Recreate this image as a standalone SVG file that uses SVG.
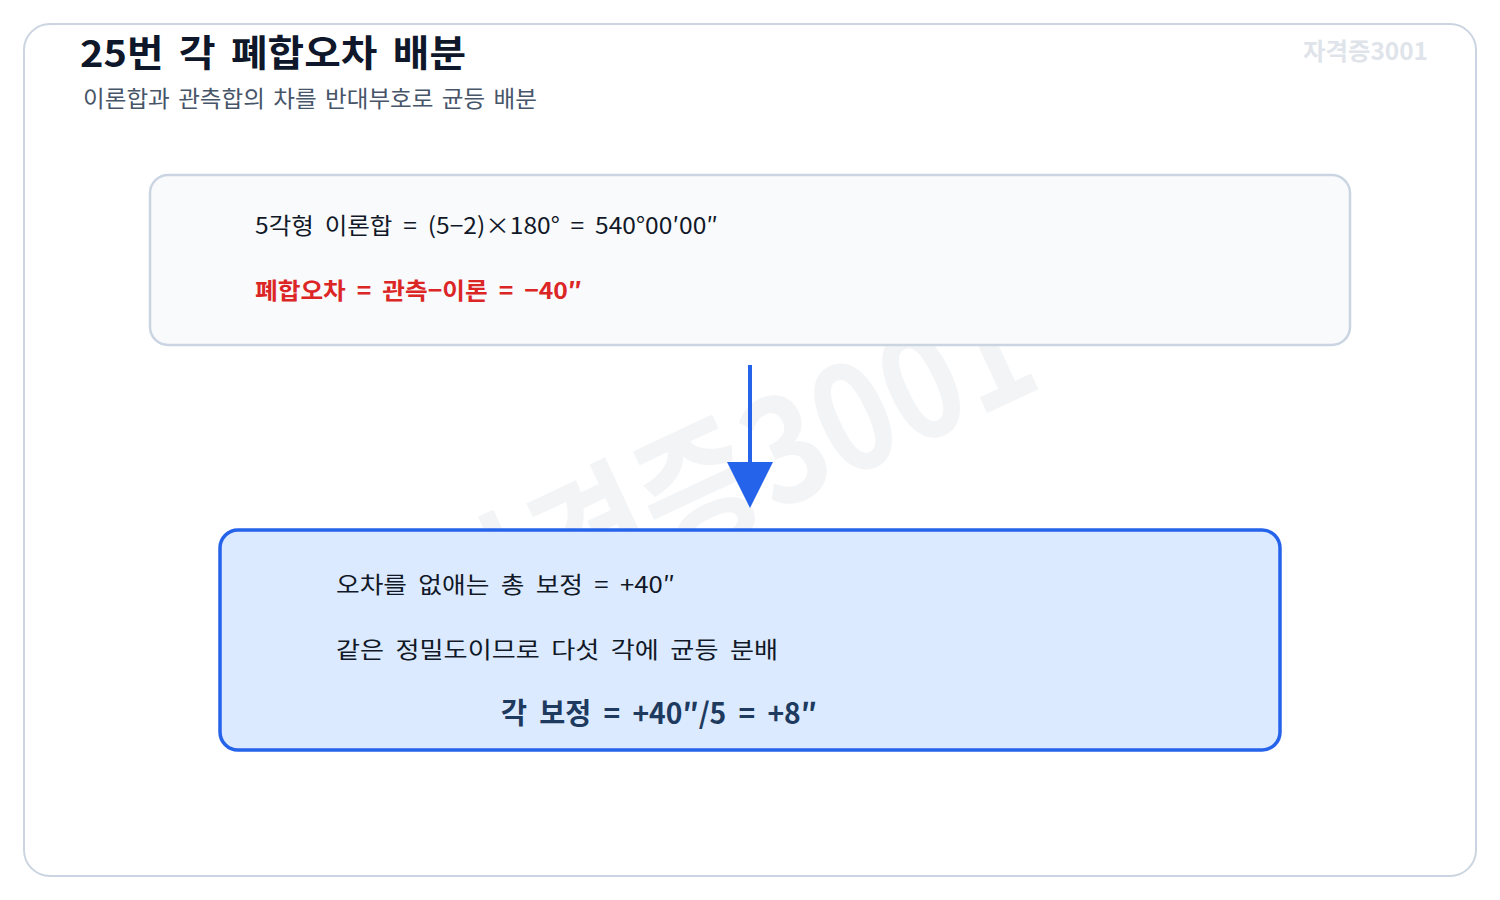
<svg xmlns="http://www.w3.org/2000/svg" width="1500" height="900" viewBox="0 0 1500 900">
<defs>
<style>
text{font-family:"Noto Sans CJK KR","Noto Sans",sans-serif}
.card{fill:#ffffff;stroke:#cbd5e1;stroke-width:2}
.box1{fill:#f8fafc;stroke:#cbd5e1;stroke-width:2.5}
.box2{fill:#dbeafe;stroke:#2563eb;stroke-width:3.5}
.title{font-size:37px;font-weight:700;fill:#0f172a;word-spacing:6px}
.sub{font-size:23px;fill:#475569;word-spacing:3px}
.mark{font-size:24px;font-weight:700;fill:#dfe4ea}
.wm{font-size:145px;font-weight:700;fill:#f3f4f6}
.body{font-size:23px;fill:#111827;word-spacing:5px}
.red{font-size:23px;font-weight:700;fill:#dc2626;word-spacing:5px}
.res{font-size:29px;font-weight:700;fill:#1e3a5f;word-spacing:6px}
.conn{stroke:#2563eb;stroke-width:4;fill:none}
</style>
</defs>
<rect class="card" x="24" y="24" width="1452" height="852" rx="26"/>
<text class="wm" x="750" y="500" text-anchor="middle" textLength="650" lengthAdjust="spacingAndGlyphs" transform="translate(-20,28) rotate(-25 750 450)">자격증3001</text>
<text class="title" x="80" y="67" textLength="386" lengthAdjust="spacingAndGlyphs">25번 각 폐합오차 배분</text>
<text class="sub" x="83" y="107" textLength="454" lengthAdjust="spacingAndGlyphs">이론합과 관측합의 차를 반대부호로 균등 배분</text>
<text class="mark" x="1303" y="60" textLength="125" lengthAdjust="spacingAndGlyphs">자격증3001</text>
<g id="node-theory">
<rect class="box1" x="150" y="175" width="1200" height="170" rx="18"/>
<text class="body" x="255" y="234" textLength="463" lengthAdjust="spacingAndGlyphs">5각형 이론합 = (5−2)×180° = 540°00′00″</text>
<text class="red" x="255" y="299" textLength="327" lengthAdjust="spacingAndGlyphs">폐합오차 = 관측−이론 = −40″</text>
</g>
<g id="connectors">
<line class="conn" x1="750" y1="365" x2="750" y2="464"/>
<path d="M727,462 L773,462 L750,508 Z" fill="#2563eb"/>
</g>
<g id="node-correction">
<rect class="box2" x="220" y="530" width="1060" height="220" rx="18"/>
<text class="body" x="336" y="593" textLength="339" lengthAdjust="spacingAndGlyphs">오차를 없애는 총 보정 = +40″</text>
<text class="body" x="336" y="658" textLength="442" lengthAdjust="spacingAndGlyphs">같은 정밀도이므로 다섯 각에 균등 분배</text>
<text class="res" x="501" y="724" textLength="316" lengthAdjust="spacingAndGlyphs">각 보정 = +40″/5 = +8″</text>
</g>
</svg>
